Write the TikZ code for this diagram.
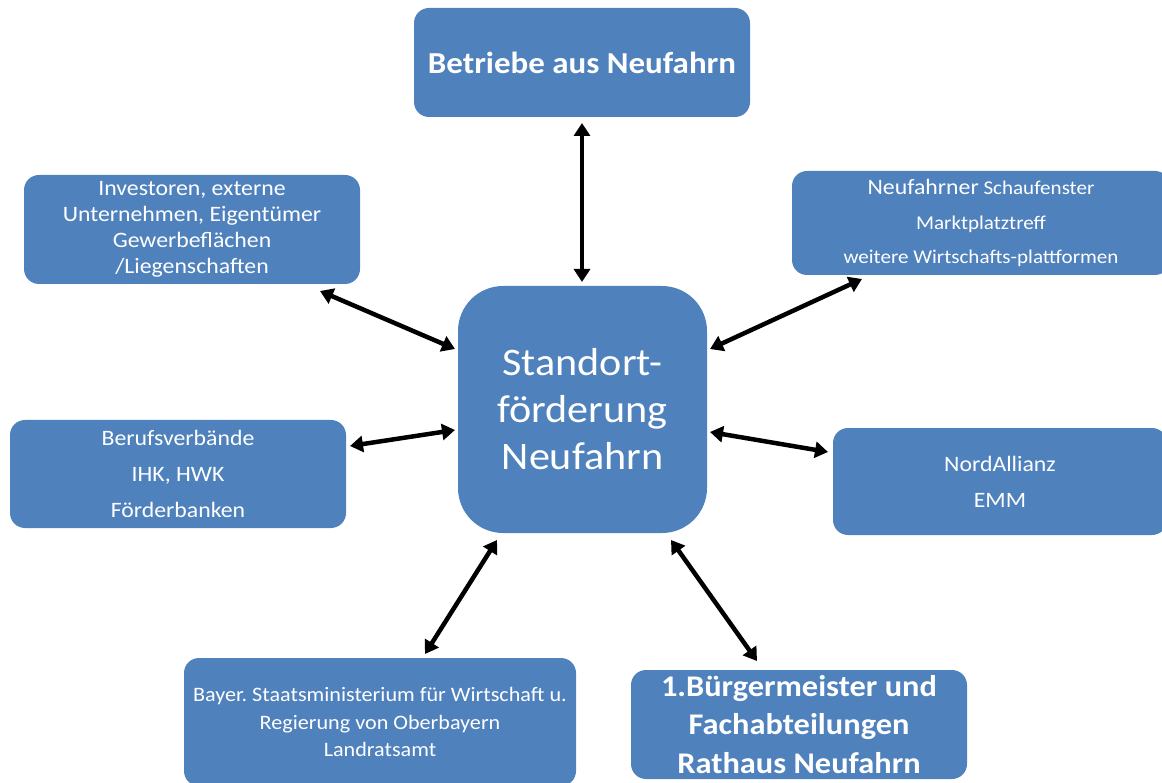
\documentclass[tikz,border=0pt]{standalone}
\usepackage{fontspec}
\setmainfont{Carlito}[FakeStretch=1.08]
\usetikzlibrary{arrows.meta}
\definecolor{boxblue}{HTML}{4F81BD}
\frenchspacing
\begin{document}
\begin{tikzpicture}[x=1pt,y=-1pt,
  box/.style={fill=boxblue, text=white, rounded corners=15pt, align=center, inner sep=0pt},
  link/.style={line width=4.5pt, {Triangle[length=13pt,width=16pt]}-{Triangle[length=13pt,width=16pt]}}]
\clip (0,0) rectangle (1162,783);
\useasboundingbox (0,0) rectangle (1162,783);

\node[box, minimum width=336pt, minimum height=109pt, font=\bfseries\fontsize{30.5}{38}\selectfont] (top) at (582,62.5) {Betriebe aus Neufahrn};

\node[box, minimum width=336pt, minimum height=109pt, font=\fontsize{22}{26}\selectfont] (inv) at (192,229.5)
  {Investoren, externe\\Unternehmen, Eigentümer\\Gewerbeflächen\\/Liegenschaften};

\node[box, minimum width=378pt, minimum height=104pt, font=\fontsize{19.5}{34.5}\selectfont] (schau) at (981,223)
  {{\fontsize{22}{34.5}\selectfont Neufahrner} Schaufenster\\Marktplatztreff\\weitere Wirtschafts-plattformen};

\node[box, rounded corners=45pt, minimum width=249pt, minimum height=247pt, font=\fontsize{39}{47}\selectfont] (center) at (582.5,409.5)
  {Standort-\\förderung\\Neufahrn};

\node[box, minimum width=336pt, minimum height=108pt, font=\fontsize{22}{36}\selectfont] (beruf) at (178,474)
  {Berufsverbände\\IHK, HWK\\Förderbanken};

\node[box, minimum width=334pt, minimum height=107pt, font=\fontsize{22}{36}\selectfont] (nord) at (1000,481.5)
  {NordAllianz\\EMM};

\node[box, minimum width=392pt, minimum height=128pt, font=\fontsize{20.5}{27.5}\selectfont] (bayer) at (380,722)
  {Bayer. Staatsministerium für Wirtschaft u.\\Regierung von Oberbayern\\Landratsamt};

\node[box, minimum width=336pt, minimum height=109pt, font=\bfseries\fontsize{30}{38.5}\selectfont] (bgm) at (799,724.5)
  {1.Bürgermeister und\\Fachabteilungen\\Rathaus Neufahrn};

\coordinate (c1) at (582,123);  \coordinate (c2) at (582,282);
\coordinate (c3) at (320,291);  \coordinate (c4) at (455,349);
\coordinate (c5) at (862,279);  \coordinate (c6) at (710,349);
\coordinate (c7) at (350,446);  \coordinate (c8) at (455,430);
\coordinate (c9) at (710,432);  \coordinate (c10) at (828,452);
\coordinate (c11) at (497,540); \coordinate (c12) at (425,654);
\coordinate (c13) at (671,540); \coordinate (c14) at (757,661);

\draw[link] (c1) -- (c2);
\draw[link] (c3) -- (c4);
\draw[link] (c5) -- (c6);
\draw[link] (c7) -- (c8);
\draw[link] (c9) -- (c10);
\draw[link] (c11) -- (c12);
\draw[link] (c13) -- (c14);
\end{tikzpicture}
\end{document}
